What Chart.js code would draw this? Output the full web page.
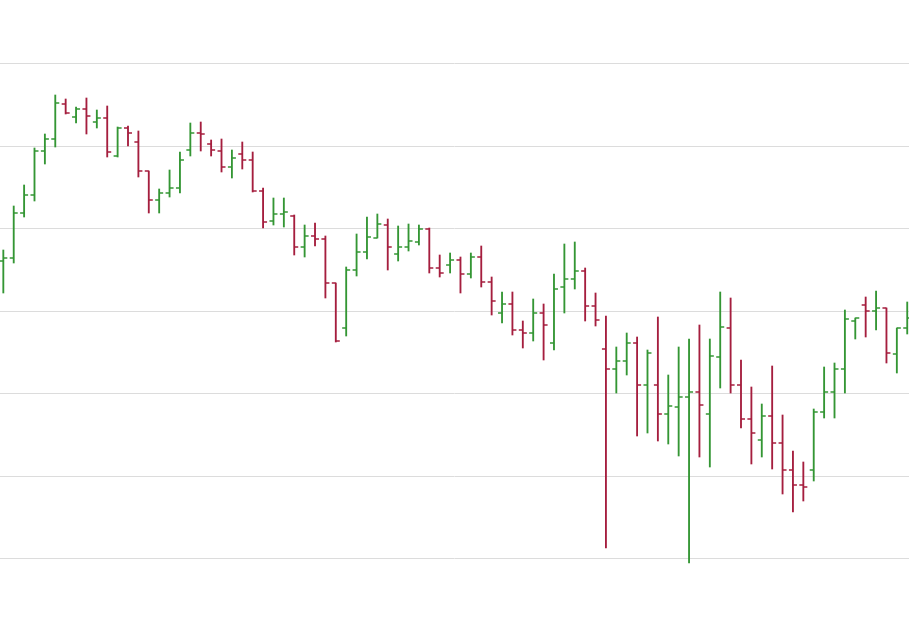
<!DOCTYPE html>
<html><head><meta charset="utf-8">
<script src="https://cdn.jsdelivr.net/npm/chart.js@4"></script>
<style>html,body{margin:0;padding:0;background:#fff}#wrap{width:909px;height:619px}</style>
</head><body><div id="wrap"><canvas id="c"></canvas></div>
<script>
// values (vertical pixel-level units, axis reversed)
const openV  = [261,258,213,195,151,139,104,117,109,122,118,156,128,142,171,200,193,188,150,133,144,151,167,154,160,191,221,214,216,247,236,239,283,328,270,252,238,225,254,247,242,229,268,265,260,274,257,282,313,304,330,333,313,343,287,279,271,306,349,369,361,343,385,385,414,407,397,392,414,357,328,385,419,440,416,443,470,485,470,412,392,369,321,305,311,308,354,328];
const highV  = [250,206,185,148,134,95,99,107,98,110,106,127,126,131,171,189,170,152,123,122,140,139,150,142,152,188,198,198,215,225,223,236,283,267,234,217,214,219,226,224,225,228,255,253,257,253,246,277,292,292,321,299,304,274,244,242,268,293,316,347,333,337,350,317,375,347,339,325,339,292,298,360,387,404,366,415,451,462,409,367,363,310,318,297,291,308,328,302];
const lowV   = [293,263,217,201,164,147,114,123,134,128,157,157,146,177,213,213,197,193,156,151,156,172,178,169,192,228,225,227,255,257,246,298,342,336,276,259,238,270,261,251,245,273,277,273,293,278,287,315,323,335,348,341,360,350,313,289,321,326,548,393,375,436,433,441,444,456,563,457,467,388,393,428,464,457,469,494,512,501,481,418,418,393,339,337,330,363,373,334];
const closeV = [258,213,195,151,139,103,113,109,116,118,152,128,133,171,200,193,188,160,133,134,150,167,158,160,191,222,214,212,247,236,239,283,341,270,252,237,224,247,247,241,229,268,273,260,274,257,282,301,304,330,333,313,325,289,279,271,306,320,369,361,343,385,353,414,406,397,392,405,356,327,385,419,433,416,443,470,485,487,412,392,369,319,318,311,308,353,328,318];
const gridLines = [63,146,228,311,393,476,558];

const UP='rgb(52,150,52)', DOWN='rgb(165,30,62)';
const colors = openV.map((o,i)=> closeV[i] < o ? UP : DOWN);

const ticksPlugin = {
  id:'ohlcTicks',
  afterDatasetsDraw(chart){
    const ctx=chart.ctx, xs=chart.scales.x, ys=chart.scales.y;
    ctx.save(); ctx.lineWidth=1.3;
    openV.forEach((o,i)=>{
      const x=xs.getPixelForValue(i);
      ctx.strokeStyle=colors[i];
      ctx.beginPath();
      const yo=ys.getPixelForValue(o), yc=ys.getPixelForValue(closeV[i]);
      ctx.moveTo(x-4,yo); ctx.lineTo(x,yo);
      ctx.moveTo(x,yc); ctx.lineTo(x+4,yc);
      ctx.stroke();
    });
    ctx.restore();
  }
};

new Chart(document.getElementById('c'),{
  type:'bar',
  data:{datasets:[{
    data: highV.map((h,i)=>({x:i,y:[lowV[i],h]})),
    backgroundColor: colors,
    barThickness:1.2,
    borderWidth:0
  }]},
  options:{
    responsive:true, maintainAspectRatio:false, animation:false,
    layout:{padding:0},
    plugins:{legend:{display:false},tooltip:{enabled:false}},
    scales:{
      x:{type:'linear',display:false,min:-0.32,max:87.17,offset:false},
      y:{reverse:true,min:0,max:619,
         afterFit(s){s.width=0;},
         afterBuildTicks(s){s.ticks=gridLines.map(v=>({value:v}));},
         ticks:{display:false},
         border:{display:false},
         grid:{color:'#dcdcdc',lineWidth:1,drawTicks:false}}
    }
  },
  plugins:[ticksPlugin]
});
</script></body></html>
